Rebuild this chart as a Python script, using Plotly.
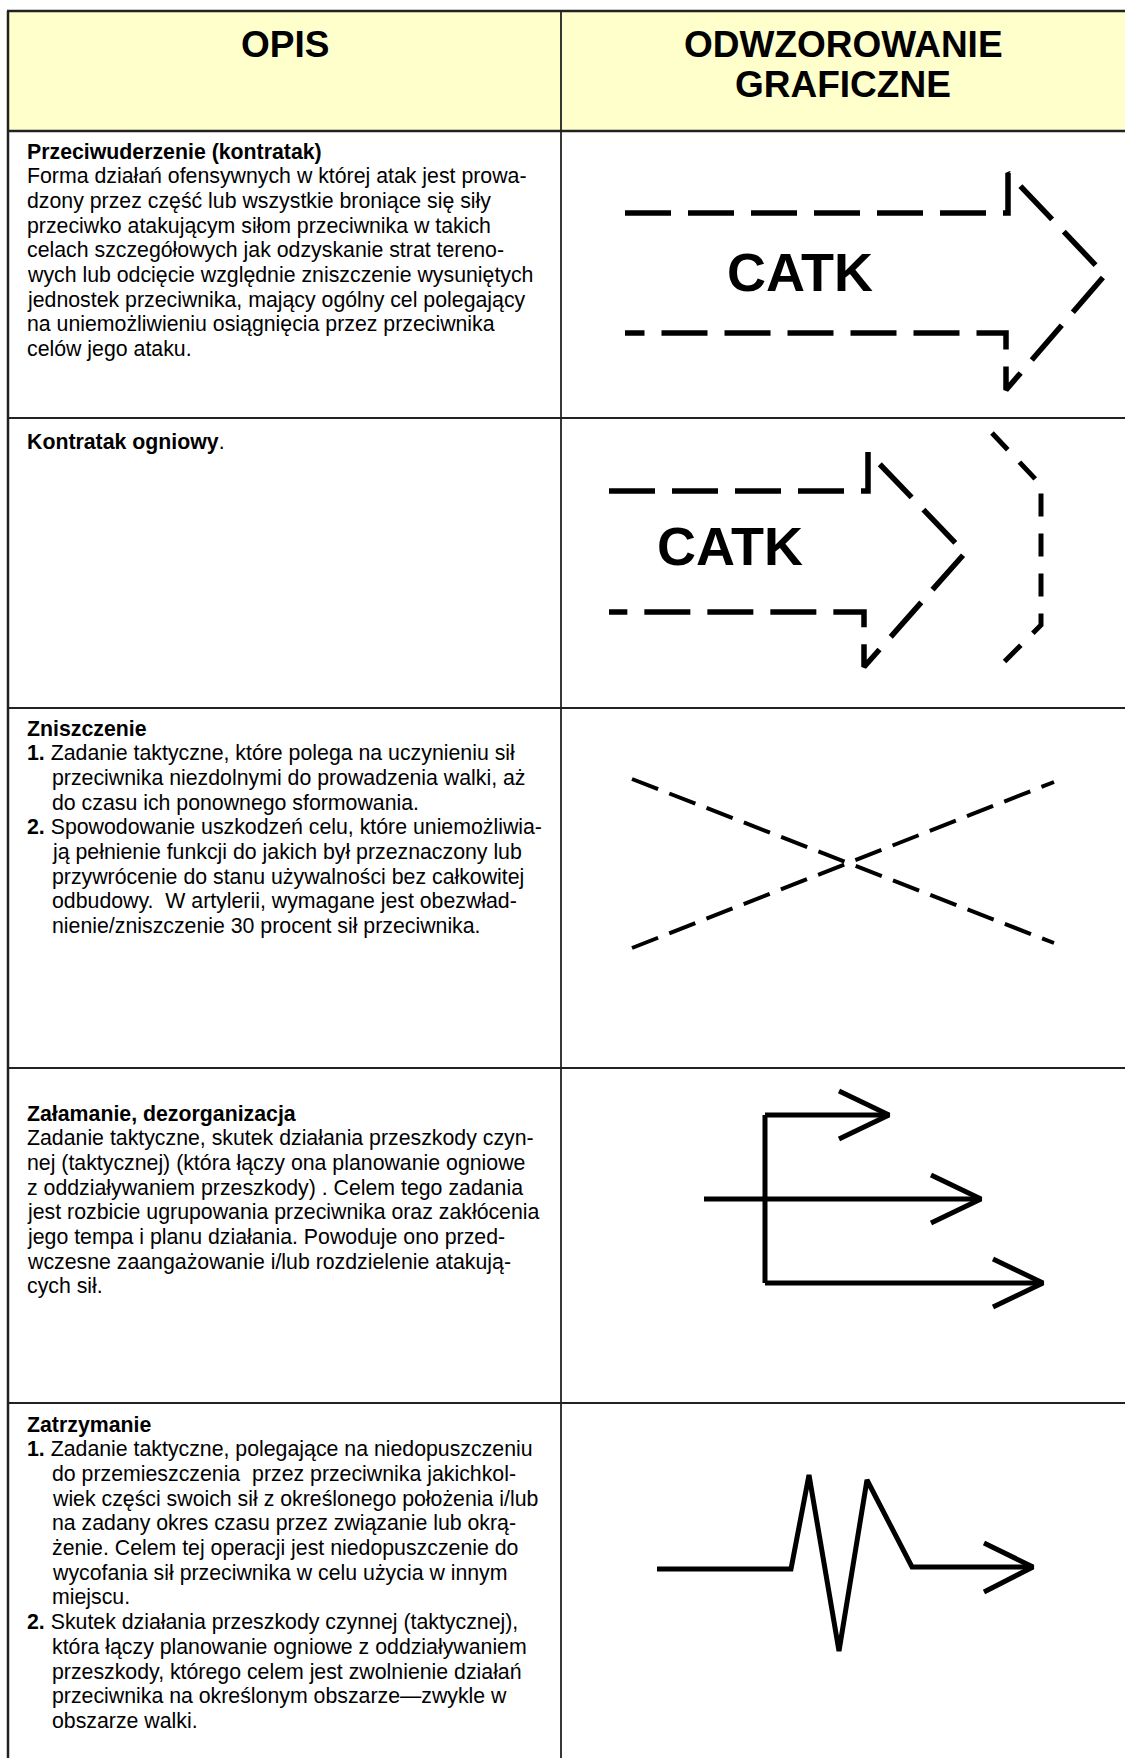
import plotly.graph_objects as go

W, H = 1125, 1758
FONT = "Liberation Sans, Arial, sans-serif"

# ---------------- table structure ----------------
HEADERS = ["OPIS", "ODWZOROWANIE", "GRAFICZNE"]
ROW_EDGES = [11, 131, 418, 708, 1068, 1403]
COL_LEFT, COL_MID, COL_RIGHT = 8, 561, 1125

# ---------------- descriptions (lines, indent flags) ----------------
ROW1_LINES = [
    "<b>Przeciwuderzenie (kontratak)</b>",
    "Forma działań ofensywnych w której atak jest prowa-",
    "dzony przez część lub wszystkie broniące się siły",
    "przeciwko atakującym siłom przeciwnika w takich",
    "celach szczegółowych jak odzyskanie strat tereno-",
    "wych lub odcięcie względnie zniszczenie wysuniętych",
    "jednostek przeciwnika, mający ogólny cel polegający",
    "na uniemożliwieniu osiągnięcia przez przeciwnika",
    "celów jego ataku.",
]
ROW1_INDENT = [0, 0, 0, 0, 0, 0, 0, 0, 0]

ROW2_LINES = ["<b>Kontratak ogniowy</b>."]
ROW2_INDENT = [0]

ROW3_LINES = [
    "<b>Zniszczenie</b>",
    "<b>1.</b> Zadanie taktyczne, które polega na uczynieniu sił",
    "przeciwnika niezdolnymi do prowadzenia walki, aż",
    "do czasu ich ponownego sformowania.",
    "<b>2.</b> Spowodowanie uszkodzeń celu, które uniemożliwia-",
    "ją pełnienie funkcji do jakich był przeznaczony lub",
    "przywrócenie do stanu używalności bez całkowitej",
    "odbudowy.  W artylerii, wymagane jest obezwład-",
    "nienie/zniszczenie 30 procent sił przeciwnika.",
]
ROW3_INDENT = [0, 0, 1, 1, 0, 1, 1, 1, 1]

ROW4_LINES = [
    "<b>Załamanie, dezorganizacja</b>",
    "Zadanie taktyczne, skutek działania przeszkody czyn-",
    "nej (taktycznej) (która łączy ona planowanie ogniowe",
    "z oddziaływaniem przeszkody) . Celem tego zadania",
    "jest rozbicie ugrupowania przeciwnika oraz zakłócenia",
    "jego tempa i planu działania. Powoduje ono przed-",
    "wczesne zaangażowanie i/lub rozdzielenie atakują-",
    "cych sił.",
]
ROW4_INDENT = [0, 0, 0, 0, 0, 0, 0, 0]

ROW5_LINES = [
    "<b>Zatrzymanie</b>",
    "<b>1.</b> Zadanie taktyczne, polegające na niedopuszczeniu",
    "do przemieszczenia  przez przeciwnika jakichkol-",
    "wiek części swoich sił z określonego położenia i/lub",
    "na zadany okres czasu przez związanie lub okrą-",
    "żenie. Celem tej operacji jest niedopuszczenie do",
    "wycofania sił przeciwnika w celu użycia w innym",
    "miejscu.",
    "<b>2.</b> Skutek działania przeszkody czynnej (taktycznej),",
    "która łączy planowanie ogniowe z oddziaływaniem",
    "przeszkody, którego celem jest zwolnienie działań",
    "przeciwnika na określonym obszarze\u2014zwykle w",
    "obszarze walki.",
]
ROW5_INDENT = [0, 0, 1, 1, 1, 1, 1, 1, 0, 1, 1, 1, 1]

ROW_FIRST_BASELINE = [159, 449, 736, 1121, 1432]

# ---------------- symbols ----------------
CATK_LABEL = "CATK"
CATK1_X = [625, 1008, 1008, 1105, 1006, 1006, 625]
CATK1_Y = [213, 213, 173, 275, 390, 333, 333]
CATK1_LABEL_POS = (800, 272)

CATK2_X = [609, 868, 868, 965, 864, 864, 609]
CATK2_Y = [491, 491, 452, 553, 667, 612, 612]
CATK2_BRACKET_X = [992, 1041, 1041, 1003]
CATK2_BRACKET_Y = [433, 485, 625, 663]
CATK2_LABEL_POS = (730, 546)

X1_X = [632, 1054]
X1_Y = [779, 943]
X2_X = [632, 1054]
X2_Y = [948, 782]

SPLIT_STEM_X = [765, 765]
SPLIT_STEM_Y = [1115, 1283]
SPLIT_TOP_X = [765, 889]
SPLIT_TOP_Y = [1115, 1115]
SPLIT_MID_X = [704, 981]
SPLIT_MID_Y = [1199, 1199]
SPLIT_BOT_X = [765, 1043]
SPLIT_BOT_Y = [1283, 1283]
SPLIT_HEAD_TOP_X = [839, 889, 839]
SPLIT_HEAD_TOP_Y = [1091, 1115, 1139]
SPLIT_HEAD_MID_X = [931, 981, 931]
SPLIT_HEAD_MID_Y = [1175, 1199, 1223]
SPLIT_HEAD_BOT_X = [993, 1043, 993]
SPLIT_HEAD_BOT_Y = [1259, 1283, 1307]

STOP_X = [657, 791, 809, 839, 867, 912, 1033]
STOP_Y = [1569, 1569, 1475, 1651, 1480, 1567, 1567]
STOP_HEAD_X = [984, 1033, 984]
STOP_HEAD_Y = [1543, 1567, 1592]

# ---------------- figure ----------------
fig = go.Figure()

def add_line(xs, ys, width=5, dash="solid"):
    fig.add_trace(go.Scatter(
        x=xs, y=ys, mode="lines",
        line=dict(color="black", width=width, dash=dash),
        hoverinfo="skip", showlegend=False))

big_dash = "46px,17px"
add_line(CATK1_X, CATK1_Y, 5.5, big_dash)
add_line(CATK2_X, CATK2_Y, 5.5, big_dash)
add_line(CATK2_BRACKET_X, CATK2_BRACKET_Y, 5, "23px,17px")
add_line(X1_X, X1_Y, 4, "28px,12px")
add_line(X2_X, X2_Y, 4, "28px,12px")
for xs, ys in [(SPLIT_STEM_X, SPLIT_STEM_Y), (SPLIT_TOP_X, SPLIT_TOP_Y),
               (SPLIT_MID_X, SPLIT_MID_Y), (SPLIT_BOT_X, SPLIT_BOT_Y),
               (SPLIT_HEAD_TOP_X, SPLIT_HEAD_TOP_Y), (SPLIT_HEAD_MID_X, SPLIT_HEAD_MID_Y),
               (SPLIT_HEAD_BOT_X, SPLIT_HEAD_BOT_Y)]:
    add_line(xs, ys, 5)
add_line(STOP_X, STOP_Y, 5)
add_line(STOP_HEAD_X, STOP_HEAD_Y, 5)

shapes = []
# header fill
shapes.append(dict(type="rect", xref="x", yref="y", x0=COL_LEFT, x1=COL_RIGHT,
                   y0=ROW_EDGES[0], y1=ROW_EDGES[1], fillcolor="#FFFFCC",
                   line=dict(width=0), layer="below"))
# horizontal rules
for i, yv in enumerate(ROW_EDGES):
    shapes.append(dict(type="line", xref="x", yref="y", x0=COL_LEFT - 1, x1=COL_RIGHT,
                       y0=yv, y1=yv,
                       line=dict(color="#222222", width=2.5 if i < 2 else 2)))
# vertical rules
shapes.append(dict(type="line", xref="x", yref="y", x0=COL_LEFT, x1=COL_LEFT,
                   y0=ROW_EDGES[0], y1=H, line=dict(color="#222222", width=2.5)))
shapes.append(dict(type="line", xref="x", yref="y", x0=COL_MID, x1=COL_MID,
                   y0=ROW_EDGES[0], y1=H, line=dict(color="#222222", width=1.8)))

annotations = []

def text(x, baseline, s, size, anchor="left"):
    annotations.append(dict(
        x=x, y=baseline - 0.35 * size, xref="x", yref="y", text=s,
        showarrow=False, xanchor=anchor, yanchor="middle",
        borderpad=0, borderwidth=0,
        font=dict(family=FONT, size=size, color="black")))

# header
HEAD_SIZE = 37
text((COL_LEFT + COL_MID) / 2, 57, "<b>" + HEADERS[0] + "</b>", HEAD_SIZE, "center")
text((COL_MID + COL_RIGHT) / 2, 57, "<b>" + HEADERS[1] + "</b>", HEAD_SIZE, "center")
text((COL_MID + COL_RIGHT) / 2, 97, "<b>" + HEADERS[2] + "</b>", HEAD_SIZE, "center")

BODY_SIZE = 21.3
LINE_STEP = 24.7
X_TEXT, X_INDENT = 27, 52
for lines, indents, base in zip(
        [ROW1_LINES, ROW2_LINES, ROW3_LINES, ROW4_LINES, ROW5_LINES],
        [ROW1_INDENT, ROW2_INDENT, ROW3_INDENT, ROW4_INDENT, ROW5_INDENT],
        ROW_FIRST_BASELINE):
    for k, (ln, ind) in enumerate(zip(lines, indents)):
        text(X_INDENT if ind else X_TEXT, base + k * LINE_STEP, ln, BODY_SIZE)

# CATK labels
for (cx, cy) in [CATK1_LABEL_POS, CATK2_LABEL_POS]:
    annotations.append(dict(x=cx, y=cy, xref="x", yref="y", text="<b>" + CATK_LABEL + "</b>",
                            showarrow=False, xanchor="center", yanchor="middle",
                            borderpad=0, borderwidth=0,
                            font=dict(family=FONT, size=54, color="black")))

fig.update_layout(
    width=W, height=H, margin=dict(l=0, r=0, t=0, b=0),
    paper_bgcolor="white", plot_bgcolor="white",
    xaxis=dict(range=[0, W], visible=False, fixedrange=True),
    yaxis=dict(range=[H, 0], visible=False, fixedrange=True),
    shapes=shapes, annotations=annotations, showlegend=False,
)

fig.write_html(
    "out.html",
    config={"displayModeBar": False},
    post_script="document.body.style.margin='0';document.body.style.overflow='hidden';",
)
